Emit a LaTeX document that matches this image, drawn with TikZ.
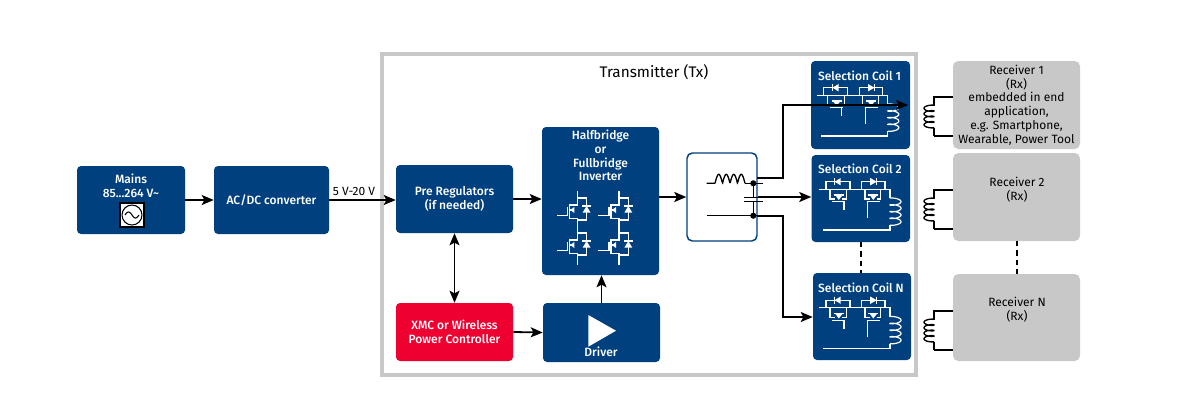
\documentclass[tikz,border=0pt]{standalone}
\usepackage{fontspec}
\setmainfont{Fira Sans}[BoldFont=* Medium]
\usetikzlibrary{arrows.meta}
\definecolor{ifxblue}{HTML}{01407F}
\definecolor{ifxred}{HTML}{EE0030}
\definecolor{ifxgray}{HTML}{C8C8C8}
\tikzset{
  x=0.75pt,y=-0.75pt,
  txt/.style={font=\fontsize{9}{10.3}\selectfont,align=center,inner sep=0pt},
  wtxt/.style={txt,text=white,font=\fontsize{9}{10.3}\selectfont\bfseries},
  sz/.style 2 args={minimum width=#1*0.75pt,minimum height=#2*0.75pt,inner sep=0pt},
  bluebox/.style={fill=ifxblue,rounded corners=3pt,wtxt},
  redbox/.style={fill=ifxred,rounded corners=3pt,wtxt},
  graybox/.style={fill=ifxgray,rounded corners=4pt,txt},
  filterbox/.style={draw=ifxblue,line width=1.1pt,fill=white,rounded corners=4pt},
  frameline/.style={draw=ifxgray,line width=3pt},
  conn/.style={draw=black,line width=1.35pt,-{Stealth[length=9pt,width=7.5pt,inset=2pt]}},
  dconn/.style={draw=black,line width=1.35pt,{Stealth[length=9pt,width=7.5pt,inset=2pt]}-{Stealth[length=9pt,width=7.5pt,inset=2pt]}},
  dashconn/.style={draw=black,line width=1.35pt,dash pattern=on 4pt off 3pt},
  wire/.style={draw=black,line width=1pt},
  wline/.style={draw=white,line width=0.9pt},
  igbt/.pic={
    \draw[wline] (0,-19) -- (0,-5) -- (-8,-5) -- (-8,8.3) -- (0,8.3) -- (0,20);
    \draw[wline] (-10,-2.7) -- (-10,5.7) -- (-20.7,5.7);
    \draw[wline] (-8,0) -- (-3,0);
    \fill[white] (-7,0) -- (-3,-3) -- (-3,3) -- cycle;
    \draw[wline] (0,-12) -- (9.3,-12) -- (9.3,10) -- (0,10);
    \fill[white] (5.3,2.7) -- (13.3,2.7) -- (9.3,-4) -- cycle;
    \draw[wline] (5,-4) -- (13.5,-4);
  },
  coilsw/.pic={
    \draw[wline] (7.7,35.3) -- (78.3,35.3) -- (78.3,44.3);
    % first switch
    \draw[wline] (14.3,35.3) -- (14.3,27.7) -- (38.3,27.7) -- (38.3,35.3);
    \fill[white] (23,27.7) -- (29,24) -- (29,31.4) -- cycle;
    \draw[wline] (23,24) -- (23,31.4);
    \draw[wline] (18.3,35.3) -- (18.3,45) -- (23,45) (30,45) -- (35,45) -- (35,35.3);
    \draw[wline] (22,41) -- (32,41);
    \fill[white] (23.5,41) -- (31,41) -- (27,46) -- cycle;
    \draw[wline] (20,47.8) -- (33,47.8);
    \draw[wline] (32.3,47.8) -- (32.3,56);
    % second switch
    \draw[wline] (50,35.3) -- (50,27.7) -- (73.3,27.7) -- (73.3,35.3);
    \fill[white] (65,27.7) -- (58.5,24) -- (58.5,31.4) -- cycle;
    \draw[wline] (65,24) -- (65,31.4);
    \draw[wline] (53.3,35.3) -- (53.3,45) -- (58,45) (65,45) -- (69,45) -- (69,35.3);
    \draw[wline] (56.5,41) -- (66.5,41);
    \fill[white] (58,41) -- (65.5,41) -- (61.5,46) -- cycle;
    \draw[wline] (55,47.8) -- (68,47.8);
    \draw[wline] (56,47.8) -- (56,64);
    % coil and return line
    \draw[wline] plot[domain=0:1440,samples=120,variable=\t,smooth] ({78.3+5.5*(1-cos(\t))},{44.3+\t/1440*26.7-1.6*sin(\t)});
    \draw[wline] (78.3,71) -- (78.3,76) -- (11,76);
  },
  rxcoil/.pic={
    \draw[wire] plot[domain=0:1440,samples=120,variable=\t,smooth] ({-5*(1-cos(\t))},{\t/1440*22-1.5*sin(\t)});
  }
}
\begin{document}
\begin{tikzpicture}
\useasboundingbox (0,0) rectangle (1200,419);
\fill[white] (0,0) rectangle (1200,419);

% transmitter frame
\node[frameline,sz={534}{321}] (frame) at (649,214.5) {};
\node[txt,font=\fontsize{11.5}{13}\selectfont] (txtitle) at (654,72) {Transmitter (Tx)};

% left blocks
\node[bluebox,sz={108}{68}] (mains) at (131,200) {};
\node[wtxt] (mainst) at (131,186) {Mains\\85...264 V\textasciitilde};
\node[bluebox,sz={115}{68}] (acdc) at (271.5,200) {AC/DC converter};
\node[bluebox,sz={117}{68}] (pre) at (454.5,199) {Pre Regulators\\(if needed)};
\node[redbox,sz={117}{58}] (xmc) at (454.5,332) {XMC or Wireless\\Power Controller};
\node[bluebox,sz={117}{59}] (driver) at (601.5,332.5) {};
\node[bluebox,sz={117}{148}] (inv) at (600.5,201) {};
\node[wtxt] (invt) at (600.5,155.5) {Halfbridge\\or\\Fullbridge\\Inverter};
\node[filterbox,sz={70}{88}] (filter) at (722,197) {};
\node[bluebox,sz={99}{88}] (sa) at (860.5,105) {};
\node[bluebox,sz={98.5}{87}] (sb) at (860.75,198.5) {};
\node[bluebox,sz={98}{87}] (sn) at (862,316.5) {};
\node[wtxt] (sat) at (859.5,75.5) {Selection Coil 1};
\node[wtxt] (sbt) at (860,168.5) {Selection Coil 2};
\node[wtxt] (snt) at (861,287.5) {Selection Coil N};
\node[graybox,sz={127}{88}] (ra) at (1016.5,105) {Receiver 1\\(Rx)\\embedded in end\\application,\\e.g. Smartphone,\\Wearable, Power Tool};
\node[graybox,sz={127}{88}] (rb) at (1016.5,197) {};
\node[txt] (rbt) at (1017,190) {Receiver 2\\(Rx)};
\node[graybox,sz={127}{87}] (rn) at (1016.5,317.5) {};
\node[txt] (rnt) at (1017,310) {Receiver N\\(Rx)};

% mains symbol
\node[draw=black,line width=0.9pt,fill=white,sz={24}{24}] (sine) at (132,215) {};
\draw[black,line width=0.8pt] (sine.center) circle (7.5pt);
\draw[black,line width=0.8pt] plot[domain=-180:180,samples=30,variable=\t,smooth] ({132+\t/180*7},{215+3*sin(\t)});

% driver symbol and label
\coordinate (dtria) at (588.3,315);
\fill[white] (dtria) -- (588.3,346.7) -- (616,330.7) -- cycle;
\node[wtxt] (drivert) at (601,352) {Driver};

% inverter switches
\pic at (577.3,210) {igbt};
\pic at (619,210) {igbt};
\pic at (577.3,245) {igbt};
\pic at (619,245) {igbt};

% filter symbol
\draw[wire] (706.7,183.3) -- (715,183.3)
  plot[domain=0:720,samples=60,variable=\t,smooth] ({715+\t/720*30},{183.3-9*abs(sin(\t))});
\draw[wire] (745,183.3) -- (763,183.3);
\fill[black] (753.3,183.3) circle (2.3pt);
\draw[wire] (753.3,183.3) -- (753.3,197.7) (744,197.7) -- (763,197.7);
\draw[wire] (744,201.5) -- (763,201.5) (753.3,201.5) -- (753.3,215.7);
\draw[wire] (706.7,215.7) -- (765,215.7);
\fill[black] (753.3,215.7) circle (2.3pt);

% selection coils
\pic at (809.5,60) {coilsw};
\pic at (811.7,154) {coilsw};
\pic at (811.7,272.5) {coilsw};

% connectors
\coordinate (fa) at (757,178);
\coordinate (fn) at (757,216);
\coordinate (ka) at (783,178);
\coordinate (kb) at (783,105);
\coordinate (kn) at (783,216);
\coordinate (ko) at (783,317);
\coordinate (sae) at (908,105);
\draw[conn] (mains.east) -- (acdc.west);
\draw[conn] (acdc.east) -- (pre.west |- acdc.east);
\draw[conn] (pre.east) -- (inv.west |- pre.east);
\draw[conn] (inv.east |- filter.west) -- (filter.west);
\draw[conn] (filter.east) -- (sb.west |- filter.east);
\draw[conn] (fa) -- (ka) -- (kb) -- (sae);
\draw[conn] (fn) -- (kn) -- (ko) -- (sn.west |- ko);
\draw[dconn] (pre.south) -- (xmc.north);
\draw[conn] (xmc.east) -- (driver.west);
\draw[conn] (driver.north) -- (driver.north |- inv.south);
\draw[dashconn] (861,242) -- (861,273);
\draw[dashconn] (1017,241) -- (1017,274);
\node[txt] (vlabel) at (354,191.5) {5 V-20 V};

% receiver coils
\foreach \nm/\ya/\yb in {ra/97/136,rb/190/229,rn/311/350}{
  \coordinate (c1) at (953,\ya);
  \coordinate (c2) at (934,\ya);
  \coordinate (c3) at (934,\yb);
  \coordinate (c4) at (953,\yb);
  \draw[wire] (c1) -- (c2) -- ++(0,8.5) (c3) -- ++(0,-8.5) (c3) -- (c4);
  \pic at (934,\ya+8.5) {rxcoil};
}
\end{tikzpicture}
\end{document}
